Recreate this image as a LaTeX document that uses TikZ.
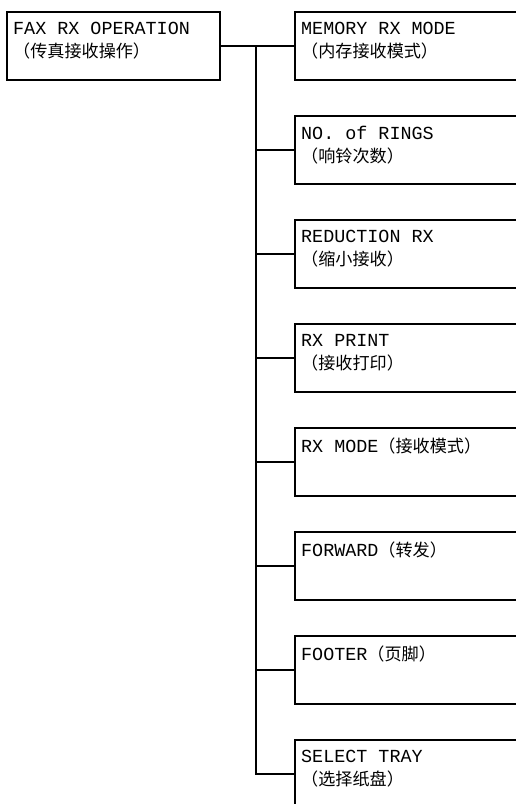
\documentclass[tikz,border=0pt]{standalone}
\usepackage{fontspec}
\setmonofont{Liberation Mono}
\newfontfamily\cjk[Scale=0.93]{Noto Sans CJK SC}
\usetikzlibrary{positioning}

\begin{document}
\begin{tikzpicture}[x=1pt,y=-1pt,
  menubox/.style={draw, line width=1.8pt, anchor=north west, minimum width=260pt, minimum height=68pt, inner sep=0pt},
  menutext/.style={anchor=north west, align=left, inner xsep=7pt, inner ysep=11pt, font=\ttfamily\fontsize{18.4}{23}\selectfont},
  link/.style={line width=1.8pt}]
\useasboundingbox (0,0) rectangle (516,804);
\clip (0,0) rectangle (516,804);
% root entry
\node[menubox, minimum width=213pt] (op) at (6,11) {};
\node[menutext] (opt) at (op.north west) {FAX RX OPERATION\\{\cjk （传真接收操作）}};
% sub menu entries
\node[menubox] (mem) at (294,11) {};
\node[menutext] (memt) at (mem.north west) {MEMORY RX MODE\\{\cjk （内存接收模式）}};
\node[menubox] (rings) at (294,115) {};
\node[menutext] (ringst) at (rings.north west) {NO. of RINGS\\{\cjk （响铃次数）}};
\node[menubox] (red) at (294,219) {};
\node[menutext] (redt) at (red.north west) {REDUCTION RX\\{\cjk （缩小接收）}};
\node[menubox] (prn) at (294,323) {};
\node[menutext] (prnt) at (prn.north west) {RX PRINT\\{\cjk （接收打印）}};
\node[menubox] (mode) at (294,427) {};
\node[menutext] (modet) at (mode.north west) {RX MODE{\cjk （接收模式）}};
\node[menubox] (fwd) at (294,531) {};
\node[menutext] (fwdt) at (fwd.north west) {FORWARD{\cjk （转发）}};
\node[menubox] (foot) at (294,635) {};
\node[menutext] (foott) at (foot.north west) {FOOTER{\cjk （页脚）}};
\node[menubox] (tray) at (294,739) {};
\node[menutext] (trayt) at (tray.north west) {SELECT TRAY\\{\cjk （选择纸盘）}};
% connectors
\coordinate (bus) at (256,45);
\draw[link] (op.east) -- (mem.west);
\draw[link] (bus) |- (tray.west);
\draw[link] (bus |- rings.west) -- (rings.west);
\draw[link] (bus |- red.west) -- (red.west);
\draw[link] (bus |- prn.west) -- (prn.west);
\draw[link] (bus |- mode.west) -- (mode.west);
\draw[link] (bus |- fwd.west) -- (fwd.west);
\draw[link] (bus |- foot.west) -- (foot.west);
\end{tikzpicture}
\end{document}
